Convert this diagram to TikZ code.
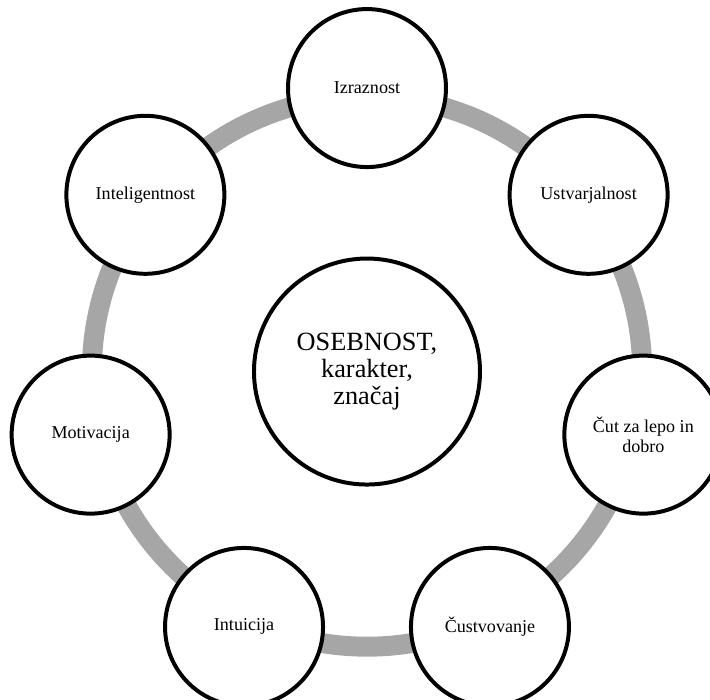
\documentclass[tikz,border=0pt]{standalone}
\usepackage{fontspec}
\setmainfont{Liberation Serif}
\tikzset{
    trait/.style={circle, draw=black, line width=3pt, fill=white, minimum size=4.18cm, inner sep=0pt, align=center, font=\fontsize{13.6}{14.8}\selectfont},
    core/.style={circle, draw=black, line width=3pt, fill=white, minimum size=5.98cm, inner sep=0pt, align=center, font=\fontsize{19.8}{20}\selectfont},
    ring/.style={draw=black!35, line width=15pt}
}
\begin{document}
\begin{tikzpicture}
    % Page frame
    \useasboundingbox (-9.71,-8.69) rectangle (9.075,9.83);
    
    % Gray ring behind the outer circles
    \coordinate (mid) at (0,0);
    \draw[ring] (mid) circle (7.28);
    
    % Centre circle
    \node[core] (osebnost) at (mid) {OSEBNOST,\\karakter,\\značaj};
    
    % Outer circles
    \node[trait] (izraznost) at (90:7.5) {Izraznost};
    \node[trait] (ustvarjalnost) at (38.57:7.5) {Ustvarjalnost};
    \node[trait] (cut) at (-12.86:7.5) {Čut za lepo in\\dobro};
    \node[trait] (custvovanje) at (-64.29:7.5) {Čustvovanje};
    \node[trait] (intuicija) at (-115.71:7.5) {Intuicija};
    \node[trait] (motivacija) at (192.86:7.5) {Motivacija};
    \node[trait] (inteligentnost) at (141.43:7.5) {Inteligentnost};
\end{tikzpicture}
\end{document}
